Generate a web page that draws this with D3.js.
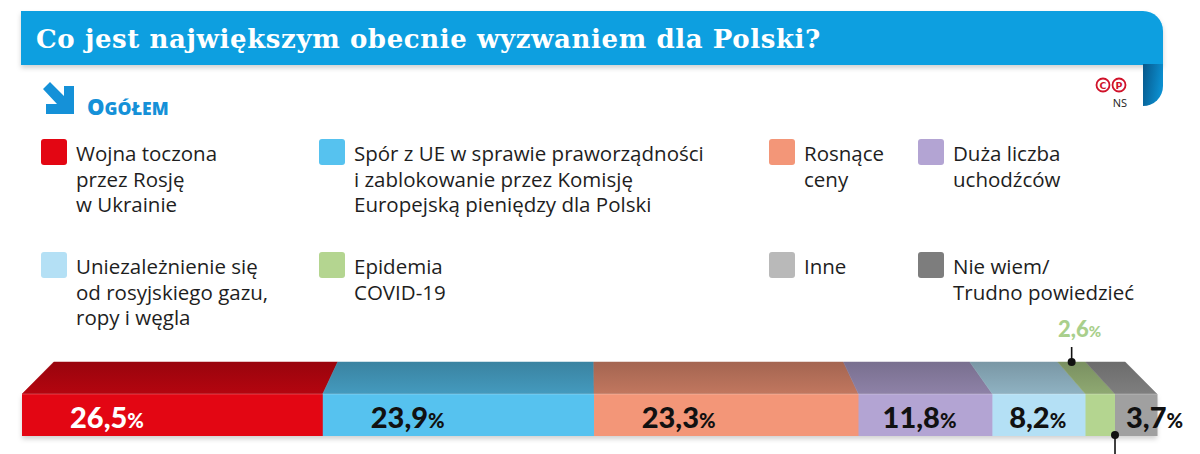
<!DOCTYPE html>
<html>
<head>
<meta charset="utf-8">
<script src="https://cdn.jsdelivr.net/npm/d3@7"></script>
<style>
  body { margin: 0; background: #fff; }
  svg { display: block; }
</style>
</head>
<body>
<div id="app"></div>
<script>

//
// Data
//

const title = 'Co jest największym obecnie wyzwaniem dla Polski?'

// legend, row by row
const legendLabels = [
  ['Wojna toczona', 'przez Rosję', 'w Ukrainie'],
  ['Spór z UE w sprawie praworządności', 'i zablokowanie przez Komisję', 'Europejską pieniędzy dla Polski'],
  ['Rosnące', 'ceny'],
  ['Duża liczba', 'uchodźców'],
  ['Uniezależnienie się', 'od rosyjskiego gazu,', 'ropy i węgla'],
  ['Epidemia', 'COVID-19'],
  ['Inne'],
  ['Nie wiem/', 'Trudno powiedzieć'],
]
const legendColors = ['#e30613', '#56c2ef', '#f39678', '#b3a4d3', '#b4e0f5', '#b4d590', '#b9b9b9', '#7d7d7d']

// stacked bar, left to right
const barValues = [26.5, 23.9, 23.3, 11.8, 8.2, 2.6, 3.7]
const barLabels = ['26,5', '23,9', '23,3', '11,8', '8,2', '2,6', '3,7']
const barColors = ['#e30613', '#56c2ef', '#f39678', '#b3a4d3', '#b4e0f5', '#b4d590', '#a0a0a0']
const labelColors = ['#fff', '#111', '#111', '#111', '#111', '#a9cf8c', '#111']
const outsideLabel = 5 // the thin green one gets its label above the bar


//
// Constants
//

const width = 1200
const height = 454
const blue = '#0a9fe0'
const bar = { left: 22, right: 1157, top: 362, front: 394, bottom: 436 }
const shrink = 0.944 // how much narrower the top face is (perspective)


const svg = d3.select('#app').append('svg')
  .attr('width', width)
  .attr('height', height)

const defs = svg.append('defs')

defs.append('filter').attr('id', 'shadow')
  .attr('x', '-5%').attr('y', '-20%').attr('width', '110%').attr('height', '160%')
  .append('feDropShadow')
  .attr('dx', 0).attr('dy', 3).attr('stdDeviation', 2.5)
  .attr('flood-color', '#000').attr('flood-opacity', 0.18)

const curl = defs.append('linearGradient').attr('id', 'curl')
  .attr('x1', 0).attr('y1', 0).attr('x2', 1).attr('y2', 0.3)
curl.append('stop').attr('offset', 0).attr('stop-color', '#07578a')
curl.append('stop').attr('offset', 1).attr('stop-color', '#0b8fd0')


//
// Header
//

svg.append('path')
  .attr('d', 'M21,11 H1143 A20,20 0 0 1 1163,31 V65 H21 Z')
  .attr('fill', blue)
  .attr('filter', 'url(#shadow)')

svg.append('path')
  .attr('d', 'M1143,64 H1163 V86 A20,20 0 0 1 1143,106 Z')
  .attr('fill', 'url(#curl)')

const titleText = svg.append('text')
  .attr('x', 36).attr('y', 48)
  .attr('fill', '#fff')
  .attr('font-family', 'DejaVu Serif, serif')
  .attr('font-weight', 'bold')
  .attr('font-size', 23)
  .attr('letter-spacing', -0.3)
  .text(title)
// grow the font until the title takes the same width as in print, then even it out
const natural = titleText.node().getComputedTextLength()
titleText.attr('font-size', Math.min(26, 23 * 784 / natural))
titleText.attr('textLength', 784).attr('lengthAdjust', 'spacing')

// arrow icon
svg.append('path')
  .attr('d', 'M43,89 L50,82 L64,96 L64,86 L74,86 L74,114 L46,114 L46,104 L57,104 Z')
  .attr('fill', '#1591d8')

svg.append('text')
  .attr('x', 87).attr('y', 115)
  .attr('fill', '#1591d8')
  .attr('font-family', 'Open Sans, sans-serif')
  .attr('font-weight', 800)
  .attr('font-size', 22)
  .call(t => t.append('tspan').text('O'))
  .call(t => t.append('tspan').attr('font-size', 17.5).text('GÓŁEM'))

// copyright marks
const cp = svg.append('g').attr('fill', 'none').attr('stroke', '#d0122a').attr('stroke-width', 1.8)
;['C', 'P'].forEach((ch, i) => {
  const cx = 1103 + i * 16
  cp.append('circle').attr('cx', cx).attr('cy', 85).attr('r', 6.5)
  svg.append('text')
    .attr('x', cx).attr('y', 88.5)
    .attr('text-anchor', 'middle')
    .attr('fill', '#d0122a')
    .attr('font-family', 'DejaVu Sans, sans-serif')
    .attr('font-weight', 'bold')
    .attr('font-size', 9.5)
    .text(ch)
})
svg.append('text')
  .attr('x', 1127).attr('y', 107)
  .attr('text-anchor', 'end')
  .attr('fill', '#222')
  .attr('font-family', 'Open Sans, sans-serif')
  .attr('font-size', 11)
  .text('NS')


//
// Legend
//

const colX = [41, 319, 769, 918]
const rowY = [139, 252]

const legend = svg.append('g').selectAll('g')
  .data(legendLabels)
  .join('g')
  .attr('transform', (d, i) => `translate(${colX[i % 4]}, ${rowY[Math.floor(i / 4)]})`)

legend.append('rect')
  .attr('width', 26).attr('height', 26).attr('rx', 3)
  .attr('fill', (d, i) => legendColors[i])

legend.append('text')
  .attr('fill', '#1e1e1e')
  .attr('font-family', 'Open Sans, sans-serif')
  .attr('font-size', 20.5)
  .selectAll('tspan')
  .data(d => d)
  .join('tspan')
  .attr('x', 35)
  .attr('y', (d, i) => 22 + i * 25.5)
  .text(d => d)


//
// Bar
//

const x = d3.scaleLinear().domain([0, 100]).range([bar.left, bar.right])
const ends = Array.from(d3.cumsum(barValues))
const segments = barValues.map((v, i) => ({
  i, value: v, x0: x(ends[i] - v), x1: x(ends[i]),
}))

const cx = (bar.left + bar.right) / 2
const topX = v => cx + (v - cx) * shrink

// gradients for the top faces
segments.forEach(s => {
  const g = defs.append('linearGradient').attr('id', `top${s.i}`)
    .attr('x1', 0).attr('y1', 0).attr('x2', 0).attr('y2', 1)
  g.append('stop').attr('offset', 0).attr('stop-color', d3.color(barColors[s.i]).darker(1.1))
  g.append('stop').attr('offset', 1).attr('stop-color', d3.color(barColors[s.i]).darker(0.65))
})

const barG = svg.append('g')

// shadow under the whole bar
barG.append('rect')
  .attr('x', bar.left).attr('y', bar.front)
  .attr('width', bar.right - bar.left).attr('height', bar.bottom - bar.front)
  .attr('fill', '#fff')
  .attr('filter', 'url(#shadow)')

barG.selectAll('.top').data(segments).join('path')
  .attr('class', 'top')
  .attr('d', s => `M${s.x0},${bar.front} L${topX(s.x0)},${bar.top} L${topX(s.x1)},${bar.top} L${s.x1},${bar.front} Z`)
  .attr('fill', s => `url(#top${s.i})`)
  .attr('stroke', s => `url(#top${s.i})`)
  .attr('stroke-width', 0.5)

barG.selectAll('.front').data(segments).join('rect')
  .attr('class', 'front')
  .attr('x', s => s.x0)
  .attr('y', bar.front)
  .attr('width', s => s.x1 - s.x0 + 0.5)
  .attr('height', bar.bottom - bar.front)
  .attr('fill', s => barColors[s.i])

// light edge between top and front
barG.append('line')
  .attr('x1', bar.left).attr('x2', bar.right)
  .attr('y1', bar.front).attr('y2', bar.front)
  .attr('stroke', '#fff').attr('stroke-opacity', 0.25).attr('stroke-width', 1)

// value labels
const labelX = s => s.x0 + Math.max(11, Math.min(48, (s.x1 - s.x0) * 0.18))

const labels = barG.selectAll('.label')
  .data(segments.filter(s => s.i !== outsideLabel))
  .join('text')
  .attr('class', 'label')
  .attr('x', labelX)
  .attr('y', 428)
  .attr('fill', s => labelColors[s.i])
  .attr('font-family', 'Lato, sans-serif')
  .attr('font-weight', 900)
  .attr('font-size', 29)
labels.append('tspan').text(s => barLabels[s.i])
labels.append('tspan').attr('font-size', 20).text('%')

// callout for the thin green segment
const green = segments[outsideLabel]
const gx = topX((green.x0 + green.x1) / 2)
barG.append('line')
  .attr('x1', gx).attr('x2', gx).attr('y1', 347).attr('y2', bar.top)
  .attr('stroke', '#111').attr('stroke-width', 1.6)
barG.append('circle').attr('cx', gx).attr('cy', bar.top).attr('r', 4).attr('fill', '#111')
barG.append('text')
  .attr('x', gx + 8).attr('y', 337)
  .attr('text-anchor', 'middle')
  .attr('fill', labelColors[outsideLabel])
  .attr('font-family', 'Lato, sans-serif')
  .attr('font-weight', 900)
  .attr('font-size', 22)
  .call(t => t.append('tspan').text(barLabels[outsideLabel]))
  .call(t => t.append('tspan').attr('font-size', 15).text('%'))

// callout below the bar (its label is outside the picture)
const bx = green.x1
barG.append('line')
  .attr('x1', bx).attr('x2', bx).attr('y1', bar.bottom - 1).attr('y2', height)
  .attr('stroke', '#111').attr('stroke-width', 1.6)
barG.append('circle').attr('cx', bx).attr('cy', bar.bottom - 1).attr('r', 4).attr('fill', '#111')

</script>
</body>
</html>
